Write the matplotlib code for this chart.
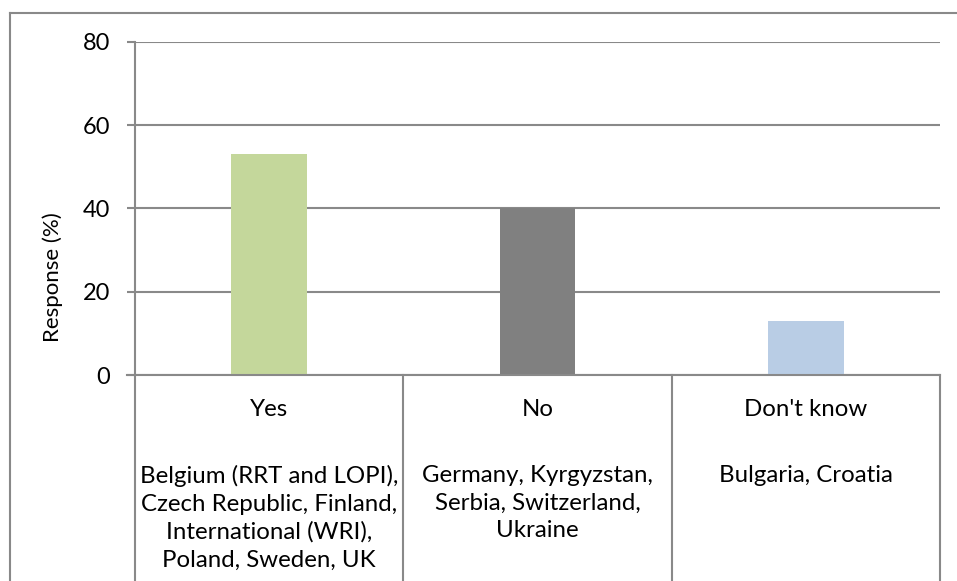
import matplotlib
matplotlib.use("Agg")
import matplotlib.pyplot as plt
from matplotlib.transforms import blended_transform_factory
from matplotlib.lines import Line2D

categories = ["Yes", "No", "Don't know"]
values = [53, 40, 13]
countries = [
    "Belgium (RRT and LOPI),\nCzech Republic, Finland,\nInternational (WRI),\nPoland, Sweden, UK",
    "Germany, Kyrgyzstan,\nSerbia, Switzerland,\nUkraine",
    "Bulgaria, Croatia",
]
colors = ["#C4D79B", "#808080", "#B9CDE5"]
yticks = [0, 20, 40, 60, 80]

plt.rcParams['font.family'] = ['Lato', 'DejaVu Sans']
W, H = 957, 581
fig = plt.figure(figsize=(W / 100, H / 100), dpi=100)
L, R, T, B = 135, 940, 42, 375
ax = fig.add_axes([L / W, 1 - B / H, (R - L) / W, (B - T) / H])

grid_c = "#898989"
fs = 17.3
x = list(range(len(categories)))
ax.bar(x, values, width=0.283, color=colors, zorder=3)
ax.set_xlim(-0.5, len(categories) - 0.5)
ax.set_ylim(0, 80)
ax.set_yticks(yticks)
ax.set_yticklabels([str(v) for v in yticks], fontsize=17)
ax.set_xticks([])
ax.yaxis.grid(True, color=grid_c, linewidth=1.5, zorder=0)
ax.set_axisbelow(True)
for s in ["top", "right", "bottom"]:
    ax.spines[s].set_visible(False)
ax.spines["left"].set_color(grid_c)
ax.spines["left"].set_linewidth(1.5)
ax.tick_params(axis="y", length=5.8, width=1.5, color=grid_c, pad=12)
fig.text(53 / W, 1 - 277 / H, "Response (%)", rotation=90, ha="center", va="center",
         fontsize=16)

# zero line extends into tick region
bl = blended_transform_factory(ax.transData, ax.transAxes)
ax.add_line(Line2D([-0.5 - 8 / 268.3, len(categories) - 0.5], [0, 0], transform=bl,
                   color=grid_c, linewidth=1.5, clip_on=False, zorder=4))

# category table
depth = (H - B) / (B - T)
for b in [i - 0.5 for i in range(len(categories) + 1)]:
    ax.add_line(Line2D([b, b], [0, -depth - 0.05], transform=bl, color=grid_c,
                       linewidth=1.5, clip_on=False))
px = 1 / (B - T)
for i, (cat, ctry) in enumerate(zip(categories, countries)):
    ax.text(i, -(410 - B) * px, cat, transform=bl, ha="center", va="center", fontsize=fs)
    ax.text(i, -(465 - B) * px, ctry, transform=bl, ha="center", va="top", fontsize=fs,
            linespacing=1.39, multialignment="center")

# outer frame (cropped)
fig.add_artist(Line2D([10 / W, 10 / W], [0, 1 - 13 / H], transform=fig.transFigure,
                      color=grid_c, linewidth=1.5))
fig.add_artist(Line2D([10 / W, 1], [1 - 13 / H, 1 - 13 / H], transform=fig.transFigure,
                      color=grid_c, linewidth=1.5))

fig.savefig("out.png", dpi=100)
